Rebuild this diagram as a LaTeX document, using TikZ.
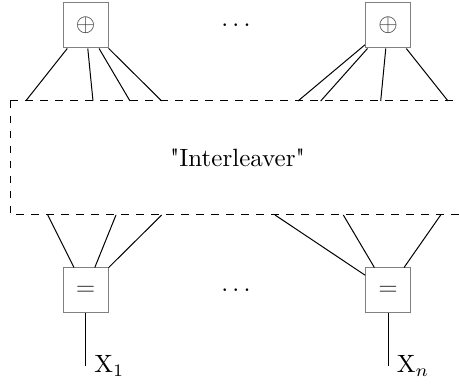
\documentclass[tikz,border=0pt]{standalone}
\begin{document}
\begin{tikzpicture}[x=0.4pt,y=0.4pt]
\tikzset{
	factor/.style={draw=gray, text=black!80, minimum size=18pt, inner sep=0pt},
}
\useasboundingbox (0,0) rectangle (459,385);

 % les noeuds de parité et de variable
  \node[factor] (chkA) at (85.5,359.5) {$\oplus$};
  \node[factor] (chkB) at (388,359.5) {$\oplus$};
  \node[factor] (varA) at (85.5,94.5) {$=$};
  \node[factor] (varB) at (388,94.5) {$=$};
  \node (dotsT) at (236,359.5) {$\dots$};
  \node (dotsB) at (236,94.5) {$\dots$};

 % l'entrelaceur
  \draw[dashed] (10,284) -- (465,284) (10,284) -- (10,170) -- (465,170);
  \node (intl) at (237.5,227) {\textquotedbl Interleaver\textquotedbl};

 % les branches
  \foreach \x [count=\i] in {25.7,93,130,161.7} \coordinate (tA\i) at (\x,284);
  \foreach \x [count=\i] in {298,320.7,380.7,448} \coordinate (tB\i) at (\x,284);
  \foreach \x [count=\i] in {47.7,116,161.7} \coordinate (bA\i) at (\x,170);
  \foreach \x [count=\i] in {275,343.3,440.7} \coordinate (bB\i) at (\x,170);
  \foreach \i in {1,...,4} {
    \draw (tA\i) -- (chkA);
    \draw (tB\i) -- (chkB);
  }
  \foreach \i in {1,...,3} {
    \draw (bA\i) -- (varA);
    \draw (bB\i) -- (varB);
  }

% les sorties
  \coordinate (xA) at (85.5,19);
  \coordinate (xB) at (388,19);
  \draw (varA) -- (xA);
  \draw (varB) -- (xB);
  \node[right] (labA) at (xA) {X$_1$};
  \node[right] (labB) at (xB) {X$_n$};
\end{tikzpicture}
\end{document}
